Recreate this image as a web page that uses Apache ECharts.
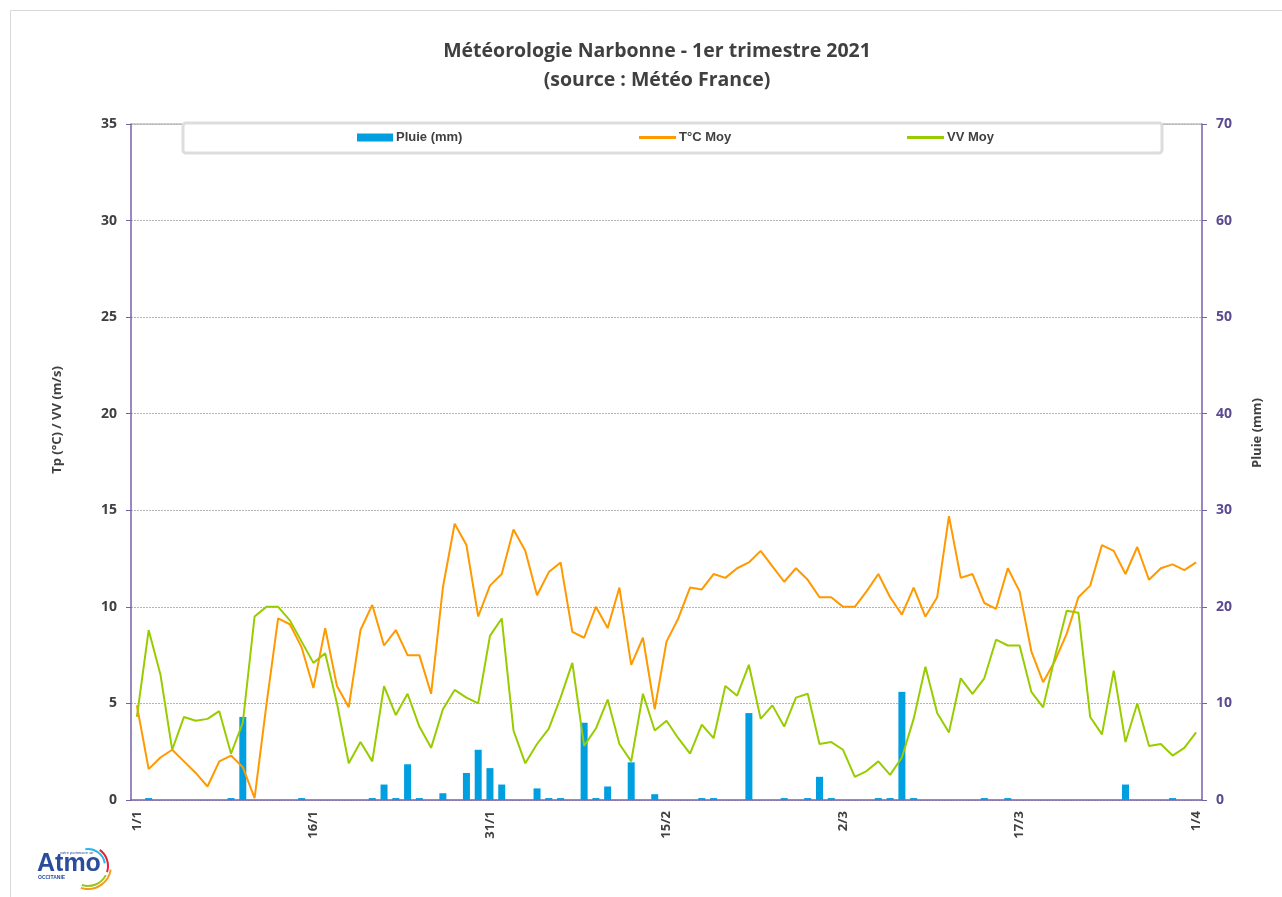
<!DOCTYPE html>
<html>
<head>
<meta charset="utf-8">
<script src="https://cdn.jsdelivr.net/npm/echarts@6/dist/echarts.min.js"></script>
<style>
html,body{margin:0;padding:0;background:#fff;}
#chart{width:1282px;height:897px;}
</style>
</head>
<body>
<div id="chart"></div>
<script>
const categories = [
"1/1","2/1","3/1","4/1","5/1","6/1","7/1","8/1","9/1","10/1","11/1","12/1","13/1","14/1","15/1","16/1","17/1","18/1","19/1","20/1","21/1","22/1","23/1","24/1","25/1","26/1","27/1","28/1","29/1","30/1","31/1",
"1/2","2/2","3/2","4/2","5/2","6/2","7/2","8/2","9/2","10/2","11/2","12/2","13/2","14/2","15/2","16/2","17/2","18/2","19/2","20/2","21/2","22/2","23/2","24/2","25/2","26/2","27/2","28/2",
"1/3","2/3","3/3","4/3","5/3","6/3","7/3","8/3","9/3","10/3","11/3","12/3","13/3","14/3","15/3","16/3","17/3","18/3","19/3","20/3","21/3","22/3","23/3","24/3","25/3","26/3","27/3","28/3","29/3","30/3","31/3",
"1/4"];

const pluie = [
0,0.2,0,0,0,0,0,0,0.2,8.6,
0,0,0,0,0.2,0,0,0,0,0,
0.2,1.6,0.2,3.7,0.2,0,0.7,0,2.8,5.2,
3.3,1.6,0,0,1.2,0.2,0.2,0,8.0,0.2,
1.4,0,3.9,0,0.6,0,0,0,0.2,0.2,
0,0,9.0,0,0,0.2,0,0.2,2.4,0.2,
0,0,0,0.2,0.2,11.2,0.2,0,0,0,
0,0,0.2,0,0.2,0,0,0,0,0,
0,0,0,0,1.6,0,0,0,0.2,0,0];

const tempMoy = [
4.9,1.6,2.2,2.6,2.0,1.4,0.7,2.0,2.3,1.7,
0.1,4.9,9.4,9.1,7.9,5.8,8.9,5.9,4.8,8.8,
10.1,8.0,8.8,7.5,7.5,5.5,11.0,14.3,13.2,9.5,
11.1,11.7,14.0,12.9,10.6,11.8,12.3,8.7,8.4,10.0,
8.9,11.0,7.0,8.4,4.7,8.2,9.4,11.0,10.9,11.7,
11.5,12.0,12.3,12.9,12.1,11.3,12.0,11.4,10.5,10.5,
10.0,10.0,10.8,11.7,10.5,9.6,11.0,9.5,10.5,14.7,
11.5,11.7,10.2,9.9,12.0,10.8,7.7,6.1,7.2,8.6,
10.5,11.1,13.2,12.9,11.7,13.1,11.4,12.0,12.2,11.9,12.3];

const vvMoy = [
4.3,8.8,6.5,2.6,4.3,4.1,4.2,4.6,2.4,4.0,
9.5,10.0,10.0,9.3,8.2,7.1,7.6,5.0,1.9,3.0,
2.0,5.9,4.4,5.5,3.8,2.7,4.7,5.7,5.3,5.0,
8.5,9.4,3.6,1.9,2.9,3.7,5.3,7.1,2.8,3.7,
5.2,2.9,2.0,5.5,3.6,4.1,3.2,2.4,3.9,3.2,
5.9,5.4,7.0,4.2,4.9,3.8,5.3,5.5,2.9,3.0,
2.6,1.2,1.5,2.0,1.3,2.2,4.2,6.9,4.5,3.5,
6.3,5.5,6.3,8.3,8.0,8.0,5.6,4.8,7.4,9.8,
9.7,4.3,3.4,6.7,3.0,5.0,2.8,2.9,2.3,2.7,3.5];

const FONT = "'Open Sans', 'DejaVu Sans', sans-serif";
const AXIS_PURPLE = '#7561a8';
const DARK = '#404040';

const chart = echarts.init(document.getElementById('chart'), null, {renderer: 'canvas'});

const legendCommon = {
  padding: 0, itemGap: 0,
  textStyle: {fontFamily: "'Liberation Sans', Arial, sans-serif", fontWeight: 'bold', fontSize: 13, color: DARK, padding: [0,0,0,-2]},
  selectedMode: false
};

chart.setOption({
  animation: false,
  backgroundColor: '#ffffff',
  grid: {left: 131, right: 80, top: 124, bottom: 97, containLabel: false},
  legend: [
    Object.assign({}, legendCommon, {left: 357, top: 131, data: [{name: 'Pluie (mm)', icon: 'rect'}], itemWidth: 36, itemHeight: 8}),
    Object.assign({}, legendCommon, {left: 639, top: 131, data: [{name: 'T°C Moy', icon: 'rect'}], itemWidth: 37, itemHeight: 3}),
    Object.assign({}, legendCommon, {left: 907, top: 131, data: [{name: 'VV Moy', icon: 'rect'}], itemWidth: 37, itemHeight: 3})
  ],
  xAxis: {
    type: 'category',
    data: categories,
    boundaryGap: true,
    axisLine: {lineStyle: {color: AXIS_PURPLE, width: 1.5}},
    axisTick: {interval: 14, length: 5, lineStyle: {color: AXIS_PURPLE}},
    axisLabel: {interval: 14, rotate: 90, margin: 11, fontFamily: FONT, fontWeight: 'bold', fontSize: 13, color: DARK}
  },
  yAxis: [
    {
      type: 'value', min: 0, max: 35, interval: 5, position: 'left',
      axisLine: {show: true, lineStyle: {color: AXIS_PURPLE, width: 1.5}},
      axisTick: {show: true, length: 5, lineStyle: {color: AXIS_PURPLE}},
      axisLabel: {margin: 14, fontFamily: FONT, fontWeight: 'bold', fontSize: 14, color: DARK},
      splitLine: {show: true, lineStyle: {color: '#b4b4b4', type: [2, 1], width: 1}}
    },
    {
      type: 'value', min: 0, max: 70, interval: 10, position: 'right',
      axisLine: {show: true, lineStyle: {color: AXIS_PURPLE, width: 1.5}},
      axisTick: {show: true, length: 5, lineStyle: {color: AXIS_PURPLE}},
      axisLabel: {margin: 14, fontFamily: FONT, fontWeight: 'bold', fontSize: 14, color: '#5b4a91'},
      splitLine: {show: false}
    }
  ],
  series: [
    {
      name: 'Pluie (mm)', type: 'bar', yAxisIndex: 1, data: pluie,
      barWidth: 7, itemStyle: {color: '#009fdf'}
    },
    {
      name: 'T°C Moy', type: 'line', yAxisIndex: 0, data: tempMoy,
      symbol: 'none', lineStyle: {color: '#ff9900', width: 2}, itemStyle: {color: '#ff9900'}
    },
    {
      name: 'VV Moy', type: 'line', yAxisIndex: 0, data: vvMoy,
      symbol: 'none', lineStyle: {color: '#99cc00', width: 2}, itemStyle: {color: '#99cc00'}
    }
  ],
  graphic: [
    {type: 'rect', z: -10, silent: true, shape: {x: 10.5, y: 10.5, width: 1290, height: 900},
      style: {fill: 'none', stroke: '#d9d9d9', lineWidth: 1}},
    {type: 'line', z: -5, silent: true, shape: {x1: 131, y1: 124, x2: 1202, y2: 124},
      style: {stroke: '#a0a0a0', lineWidth: 1}},
    {type: 'rect', z: 1, silent: true, shape: {x: 183, y: 123, width: 979, height: 30, r: 3},
      style: {fill: '#ffffff', stroke: '#dddddd', lineWidth: 3}},
    {type: 'text', z: 5, x: 657, y: 51, style: {text: 'Météorologie Narbonne - 1er trimestre 2021', font: "bold 19.5px " + FONT, fill: DARK, textAlign: 'center', textVerticalAlign: 'middle'}},
    {type: 'text', z: 5, x: 657, y: 80, style: {text: '(source : Météo France)', font: "bold 19.5px " + FONT, fill: DARK, textAlign: 'center', textVerticalAlign: 'middle'}},
    {type: 'text', z: 5, x: 57, y: 420, rotation: Math.PI / 2, style: {text: 'Tp (°C) / VV (m/s)', font: "bold 13px " + FONT, fill: DARK, textAlign: 'center', textVerticalAlign: 'middle'}},
    {type: 'text', z: 5, x: 1257, y: 433, rotation: Math.PI / 2, style: {text: 'Pluie (mm)', font: "bold 13px " + FONT, fill: DARK, textAlign: 'center', textVerticalAlign: 'middle'}},
    {type: 'text', z: 5, x: 37, y: 864, style: {text: 'Atmo', font: "bold 25px 'Liberation Sans', Arial, sans-serif", fill: '#2b4c9c', textAlign: 'left', textVerticalAlign: 'middle'}},
    {type: 'text', z: 5, x: 38, y: 878, style: {text: 'OCCITANIE', font: "bold 5px 'Liberation Sans', Arial, sans-serif", fill: '#2b4c9c', textAlign: 'left', textVerticalAlign: 'middle'}},
    {type: 'text', z: 5, x: 60, y: 853, style: {text: 'votre partenaire air', font: "4px 'Liberation Sans', Arial, sans-serif", fill: '#2b4c9c', textAlign: 'left', textVerticalAlign: 'middle'}},
    {type: 'arc', z: 5, shape: {cx: 88, cy: 866, r: 17, startAngle: -Math.PI * 0.55, endAngle: -Math.PI * 0.05}, style: {fill: 'none', stroke: '#29b6e8', lineWidth: 2}},
    {type: 'arc', z: 5, shape: {cx: 88, cy: 866, r: 20, startAngle: -Math.PI * 0.3, endAngle: Math.PI * 0.1}, style: {fill: 'none', stroke: '#e2233b', lineWidth: 2}},
    {type: 'arc', z: 5, shape: {cx: 88, cy: 866, r: 20, startAngle: Math.PI * 0.15, endAngle: Math.PI * 0.6}, style: {fill: 'none', stroke: '#9cc31c', lineWidth: 2}},
    {type: 'arc', z: 5, shape: {cx: 88, cy: 866, r: 23, startAngle: Math.PI * 0.05, endAngle: Math.PI * 0.6}, style: {fill: 'none', stroke: '#f39c1f', lineWidth: 2}}
  ]
});
</script>
</body>
</html>
